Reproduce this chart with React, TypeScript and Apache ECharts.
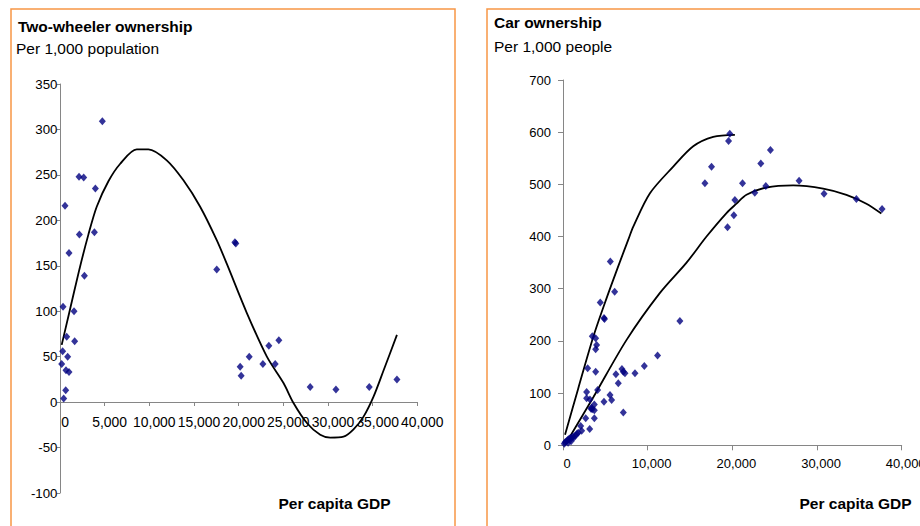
import React, { useEffect, useRef } from "react";
import * as echarts from "echarts";

// ---- Two-wheeler ownership (per 1,000 population) vs per capita GDP ----
const twGdp = [340, 1570, 2730, 750, 1640, 300, 860, 190, 670, 1010, 640, 410, 17550, 20170, 20280, 21180, 22710, 23380, 24090, 24500, 28010, 30890, 34620, 37720, 560, 1010, 2170, 2130, 2650, 3960, 3850, 4740, 19680, 19580];
const twVal = [105, 100, 139, 72, 67, 56, 50, 42, 35, 33, 13, 4, 146, 39, 29, 50, 42, 62, 42, 68, 16.5, 14, 16.5, 25, 216, 164, 184.5, 248, 247, 235, 187, 309, 174.5, 176];
// trend line
const twTrendGdp = [190, 1000, 2170, 3170, 4110, 5420, 6720, 8590, 9900, 11950, 13820, 15690, 17560, 18680, 20920, 23160, 25020, 26140, 27640, 29130, 30250, 31740, 32860, 33980, 35100, 36230, 37720];
const twTrendVal = [63, 97, 146, 184, 215, 243, 262, 278, 278, 266, 244, 215, 178, 152, 98, 50, 21, -1, -23, -36, -39, -38, -30, -16, 6, 35, 74];

// ---- Car ownership (per 1,000 people) vs per capita GDP ----
const carGdp = [19700, 19550, 16760, 17540, 19430, 20180, 20300, 21200, 22650, 23360, 23950, 24500, 27880, 30830, 34650, 37680, 5590,
  6100, 4400, 4840, 4900, 13800, 3460, 3860, 3970, 3860, 2910, 3860, 11170, 9600, 6960, 7120, 7320, 8500, 6250, 6530, 4090, 2790, 2790, 3180,
  5550, 5740, 4840, 3700, 3370, 3300, 3700, 3450, 7120, 2680, 3700, 3150, 2090, 2200,
  150, 250, 400, 550, 700, 850, 1000, 1150, 1300, 1450, 1650, 1800, 600, 950];
const carVal = [597, 583, 502, 534, 418, 441, 470, 502, 484, 540, 497, 566, 507, 482, 472, 453, 352,
  294, 273.5, 244, 242, 238, 209, 205, 192, 184, 147.5, 141, 172, 152, 146, 141, 138, 138, 136, 119, 106, 102, 90, 88,
  96.5, 87, 83.6, 78, 72, 70, 67, 69, 63, 52, 52, 31, 37, 28,
  3, 6, 8, 10, 12, 14, 13, 17, 15, 19, 22, 24, 5, 8];
// upper and lower trend lines
const carUpGdp = [240, 1800, 3580, 5150, 6730, 7710, 8300, 10270, 13020, 15380, 17740, 20300];
const carUpVal = [20, 109, 208, 282, 352, 394, 419, 483, 534, 573, 591, 595];
const carLowGdp = [830, 3580, 7510, 11450, 14590, 16950, 19310, 20490, 21670, 24030, 27180, 30720, 33470, 35830, 37600];
const carLowVal = [17, 92, 202, 292, 350, 400, 445, 463, 480, 494, 498, 492, 480, 463, 444];

const fmt = (v: number) => {
  const s = String(Math.abs(v));
  const w = s.replace(/\B(?=(\d{3})+(?!\d))/g, ",");
  return (v < 0 ? "-" : "") + w;
};
const zip = (a: number[], b: number[]) => a.map((x, i) => [x, b[i]]);

const FONT = "'Liberation Sans', Arial, sans-serif";
const AXIS = "#868686";
const ORANGE = "#F79646";

export default function App() {
  const ref = useRef<HTMLDivElement>(null);
  useEffect(() => {
    if (!ref.current) return;
    const chart = echarts.init(ref.current, undefined, { renderer: "svg" });
    const lineStyle = { color: AXIS, width: 1 };
    const trend = (xi: number, data: number[][]) => ({
      type: "line",
      xAxisIndex: xi,
      yAxisIndex: xi,
      data,
      showSymbol: false,
      smooth: 0.3,
      lineStyle: { color: "#000", width: 1.8 },
      z: 2,
    });
    const dots = (xi: number, data: number[][]) => ({
      type: "scatter",
      xAxisIndex: xi,
      yAxisIndex: xi,
      data,
      symbol: "diamond",
      symbolSize: [7, 8],
      itemStyle: { color: "#000080" },
      z: 3,
    });
    chart.setOption({
      animation: false,
      backgroundColor: "#ffffff",
      textStyle: { fontFamily: FONT },
      grid: [
        { left: 60, top: 84, width: 357.3, height: 409, outerBoundsMode: "none", containLabel: false },
        { left: 563, top: 80, width: 338.7, height: 365.3, outerBoundsMode: "none", containLabel: false },
      ],
      xAxis: [
        {
          type: "value",
          gridIndex: 0,
          min: 0,
          max: 40000,
          interval: 5000,
          offset: -91,
          splitLine: { show: false },
          axisLine: { show: true, onZero: false, lineStyle },
          axisTick: { show: true, length: 4, lineStyle: { color: AXIS } },
          axisLabel: { margin: 13, fontSize: 13.9, color: "#000", fontFamily: FONT, formatter: fmt, padding: [0, 0, 0, 10] },
        },
        {
          type: "value",
          gridIndex: 1,
          min: 0,
          max: 40000,
          interval: 10000,
          splitLine: { show: false },
          axisLine: { show: true, onZero: false, lineStyle },
          axisTick: { show: true, length: 5, lineStyle: { color: AXIS } },
          axisLabel: { margin: 12, fontSize: 13, color: "#000", fontFamily: FONT, formatter: fmt, padding: [0, 0, 0, 8] },
        },
      ],
      yAxis: [
        {
          type: "value",
          gridIndex: 0,
          min: -100,
          max: 350,
          interval: 50,
          splitLine: { show: false },
          axisLine: { show: true, onZero: false, lineStyle },
          axisTick: { show: true, length: 3, lineStyle: { color: AXIS } },
          axisLabel: { margin: 2.5, fontSize: 13.3, color: "#000", fontFamily: FONT, formatter: fmt },
        },
        {
          type: "value",
          gridIndex: 1,
          min: 0,
          max: 700,
          interval: 100,
          splitLine: { show: false },
          axisLine: { show: true, onZero: false, lineStyle },
          axisTick: { show: true, length: 5, lineStyle: { color: AXIS } },
          axisLabel: { margin: 12, fontSize: 13, color: "#000", fontFamily: FONT, formatter: fmt },
        },
      ],
      series: [
        trend(0, zip(twTrendGdp, twTrendVal)),
        dots(0, zip(twGdp, twVal)),
        trend(1, zip(carUpGdp, carUpVal)),
        trend(1, zip(carLowGdp, carLowVal)),
        dots(1, zip(carGdp, carVal)),
      ],
      graphic: [
        { type: "rect", shape: { x: 11, y: 9, width: 444, height: 600 }, style: { fill: "none", stroke: ORANGE, lineWidth: 1.5 }, z: -1 },
        { type: "rect", shape: { x: 487, y: 9, width: 500, height: 600 }, style: { fill: "none", stroke: ORANGE, lineWidth: 1.5 }, z: -1 },
        { type: "text", x: 18, y: 26, style: { text: "Two-wheeler ownership", font: `bold 15.5px ${FONT}`, fill: "#000", verticalAlign: "middle" } },
        { type: "text", x: 16, y: 48, style: { text: "Per 1,000 population", font: `15.5px ${FONT}`, fill: "#000", verticalAlign: "middle" } },
        { type: "text", x: 494, y: 22.5, style: { text: "Car ownership", font: `bold 15.5px ${FONT}`, fill: "#000", verticalAlign: "middle" } },
        { type: "text", x: 494, y: 46, style: { text: "Per 1,000 people", font: `15.5px ${FONT}`, fill: "#000", verticalAlign: "middle" } },
        { type: "text", x: 278.5, y: 503, style: { text: "Per capita GDP", font: `bold 15.5px ${FONT}`, fill: "#000", verticalAlign: "middle" } },
        { type: "text", x: 799.5, y: 503, style: { text: "Per capita GDP", font: `bold 15.5px ${FONT}`, fill: "#000", verticalAlign: "middle" } },
      ],
    });
    return () => chart.dispose();
  }, []);
  return (
    <div
      ref={ref}
      style={{ position: "fixed", left: 0, top: 0, width: 920, height: 526, background: "#fff" }}
    />
  );
}
